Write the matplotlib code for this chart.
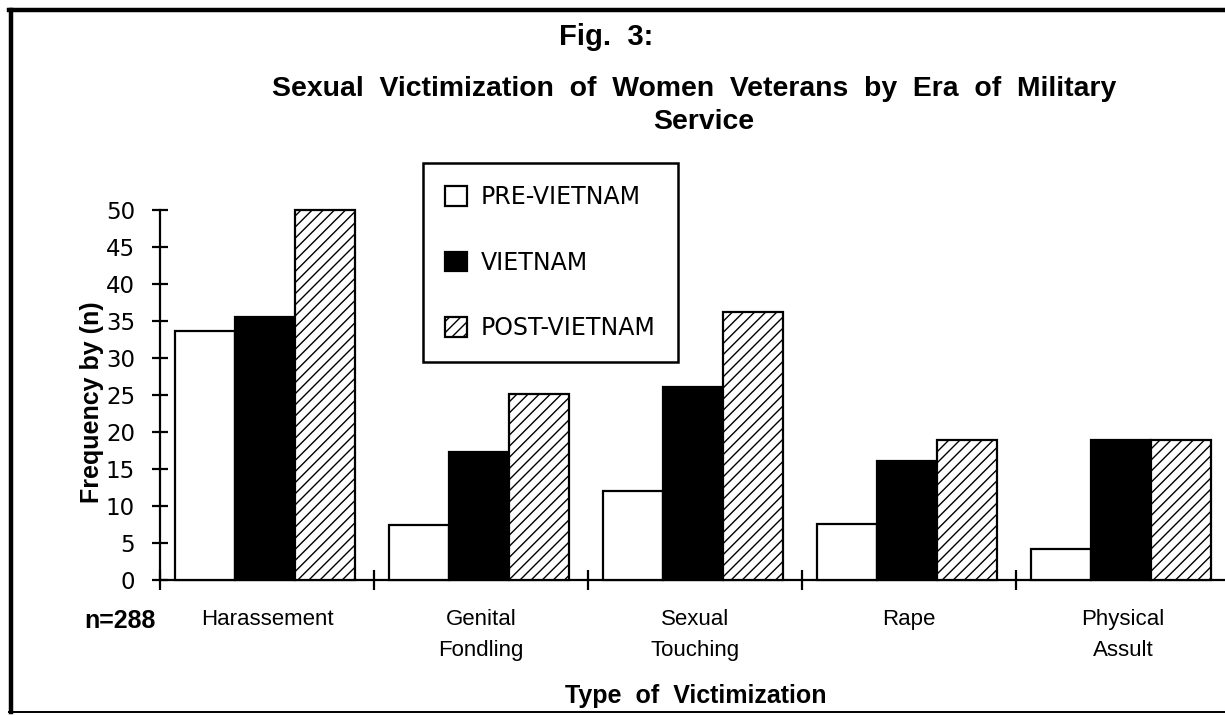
import numpy as np
import matplotlib
matplotlib.use("Agg")
import matplotlib.pyplot as plt
from matplotlib.lines import Line2D

# ── data ────────────────────────────────────────────────────────────────────
categories = ["Harassement", "Genital\nFondling", "Sexual\nTouching", "Rape", "Physical\nAssult"]
eras = ["PRE-VIETNAM", "VIETNAM", "POST-VIETNAM"]
pre_vietnam = [33.6, 7.5, 12.0, 7.6, 4.2]
vietnam = [35.5, 17.3, 26.1, 16.1, 18.9]
post_vietnam = [50.0, 25.2, 36.2, 18.9, 18.9]
y_ticks = [0, 5, 10, 15, 20, 25, 30, 35, 40, 45, 50]

W, H = 1225, 715
plt.rcParams["hatch.linewidth"] = 1.0
fig = plt.figure(figsize=(W / 100, H / 100), dpi=100)
fig.patch.set_facecolor("white")


def fx(px):
    return px / W


def fy(py):
    return 1 - py / H


# axes: y-axis at x=160, y=0 at 580, y=50 at 210; 5 categories of 214 px
ax = fig.add_axes([fx(160), fy(580), fx(5 * 214), (580 - 210) / H])
ax.set_xlim(0, 5)
ax.set_ylim(0, 50)

x = np.arange(len(categories)) + 0.49
bw = 0.28
styles = [
    dict(facecolor="white", hatch=None),
    dict(facecolor="black", hatch=None),
    dict(facecolor="white", hatch="///"),
]
handles = []
for k, (vals, st) in enumerate(zip([pre_vietnam, vietnam, post_vietnam], styles)):
    bars = ax.bar(x + (k - 1) * bw, vals, width=bw, facecolor=st["facecolor"],
                  edgecolor="black", linewidth=1.6, hatch=st["hatch"],
                  label=eras[k], clip_on=False, zorder=3)
    handles.append(bars)

for side in ("top", "right"):
    ax.spines[side].set_visible(False)
for side in ("left", "bottom"):
    ax.spines[side].set_color("black")
    ax.spines[side].set_linewidth(1.6)

ax.set_yticks(y_ticks)
ax.tick_params(axis="y", direction="inout", length=12, width=1.6, pad=12,
               labelsize=16.5, colors="black")
ax.set_xticks(np.arange(6))
ax.set_xticklabels([])
ax.tick_params(axis="x", which="major", direction="inout", length=14, width=1.6)
ax.set_xticks(np.arange(len(categories)) + 0.5, minor=True)
ax.set_xticklabels(categories, minor=True, fontfamily="Liberation Sans",
                   fontsize=16, linespacing=1.6)
ax.tick_params(axis="x", which="minor", length=0, pad=21)
for lab in ax.get_yticklabels():
    lab.set_fontfamily("DejaVu Sans")

ax.set_ylabel("Frequency by (n)", fontfamily="Liberation Sans", fontweight="bold",
              fontsize=18)
ax.yaxis.set_label_coords(-(160 - 104) / (5 * 214), 0.48)

leg = ax.legend(handles=handles, loc="upper left",
                bbox_to_anchor=(fx(423), fy(163)), bbox_transform=fig.transFigure,
                prop={"family": "DejaVu Sans", "size": 17}, frameon=True,
                fancybox=False, edgecolor="black", framealpha=1,
                borderpad=0.95, labelspacing=1.75, handlelength=0.9,
                handleheight=0.9, handletextpad=0.6, borderaxespad=0)
leg.get_frame().set_linewidth(1.8)

# titles and loose labels
tf = "Liberation Sans"
fig.text(fx(606), fy(45), "Fig.  3:", ha="center", va="baseline",
         fontfamily=tf, fontweight="bold", fontsize=21)
fig.text(fx(694), fy(96), "Sexual  Victimization  of  Women  Veterans  by  Era  of  Military",
         ha="center", va="baseline", fontfamily=tf, fontweight="bold", fontsize=20.4)
fig.text(fx(704), fy(129), "Service", ha="center", va="baseline",
         fontfamily=tf, fontweight="bold", fontsize=20.4)
fig.text(fx(120), fy(628), "n=288", ha="center", va="baseline",
         fontfamily=tf, fontweight="bold", fontsize=18)
fig.text(fx(696), fy(703), "Type  of  Victimization", ha="center", va="baseline",
         fontfamily=tf, fontweight="bold", fontsize=18)

# scanned page frame: left, top and bottom rules
fig.add_artist(Line2D([fx(11), fx(11)], [fy(10), fy(712)], color="black", lw=3.2,
                      transform=fig.transFigure))
fig.add_artist(Line2D([fx(9), 1], [fy(10), fy(10)], color="black", lw=3.2,
                      transform=fig.transFigure))
fig.add_artist(Line2D([fx(9), 1], [fy(712), fy(712)], color="black", lw=1.4,
                      transform=fig.transFigure))

fig.savefig("out.png", dpi=100, facecolor="white")
